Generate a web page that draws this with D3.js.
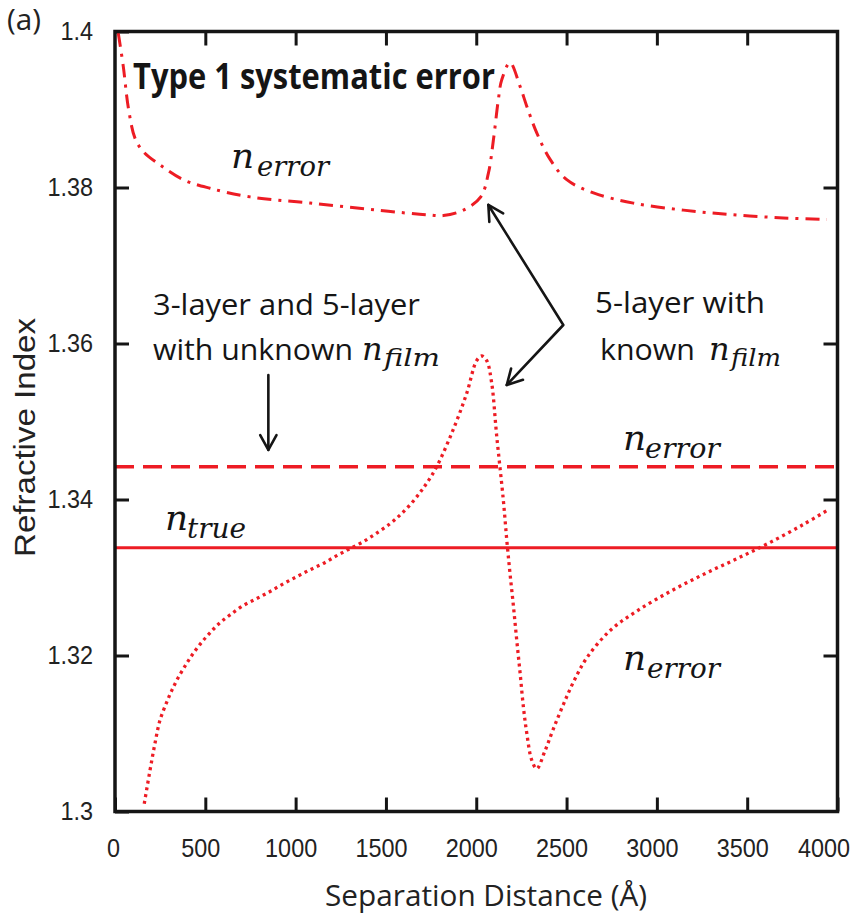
<!DOCTYPE html>
<html>
<head>
<meta charset="utf-8">
<script src="https://cdn.jsdelivr.net/npm/d3@7"></script>
<style>
  html, body { margin: 0; padding: 0; background: #fff; }
  svg { display: block; }
</style>
</head>
<body>
<svg id="chart" width="858" height="915"></svg>
<script>
// Separation distance (Å) and refractive index for each model
const xTicks = [0, 500, 1000, 1500, 2000, 2500, 3000, 3500, 4000];
const yTicks = [1.3, 1.32, 1.34, 1.36, 1.38, 1.4];
const yTickLabels = ["1.3", "1.32", "1.34", "1.36", "1.38", "1.4"];

const nTrue = 1.3338;             // true refractive index
const nErrorUnknownFilm = 1.3442; // 3-layer / 5-layer with unknown n_film

// 5-layer with known n_film, systematic error above the true value (dash-dot)
const upperDist = [18, 46, 74, 111, 157, 249, 378, 526, 748, 1080, 1449, 1726, 1818, 1929, 2025,
  2067, 2095, 2122, 2141, 2187, 2242, 2280, 2335, 2409, 2501, 2649, 2870, 3147, 3424, 3700, 3941];
const upperIndex = [1.3998, 1.3955, 1.3902, 1.3863, 1.3846, 1.3829, 1.3810, 1.3799, 1.3788, 1.3780,
  1.3771, 1.3765, 1.3764, 1.3771, 1.3788, 1.3818, 1.3861, 1.3912, 1.3938, 1.3960, 1.3930, 1.3904,
  1.3870, 1.3836, 1.3810, 1.3793, 1.3780, 1.3771, 1.3765, 1.3761, 1.3759];

// 5-layer with known n_film, oscillating error around the true value (dotted)
const lowerDist = [162, 194, 221, 249, 286, 314, 351, 397, 434, 480, 526, 581, 637, 710, 785, 858,
  932, 1006, 1080, 1153, 1228, 1301, 1375, 1449, 1523, 1578, 1633, 1689, 1726, 1781, 1873, 1947,
  2002, 2030, 2058, 2085, 2113, 2150, 2169, 2187, 2206, 2224, 2243, 2261, 2280, 2307, 2335, 2381,
  2427, 2482, 2538, 2612, 2741, 2889, 3073, 3258, 3442, 3627, 3811, 3950];
const lowerIndex = [1.3010, 1.3053, 1.3087, 1.3117, 1.3140, 1.3155, 1.3172, 1.3190, 1.3203, 1.3217,
  1.3229, 1.3242, 1.3252, 1.3264, 1.3273, 1.3282, 1.3292, 1.3301, 1.3310, 1.3318, 1.3328, 1.3337,
  1.3346, 1.3357, 1.3369, 1.3380, 1.3393, 1.3409, 1.3421, 1.3442, 1.3490, 1.3536, 1.3578, 1.3584,
  1.3578, 1.3550, 1.3482, 1.3399, 1.3348, 1.3305, 1.3263, 1.3220, 1.3177, 1.3134, 1.3100, 1.3066,
  1.3055, 1.3078, 1.3106, 1.3137, 1.3166, 1.3197, 1.3232, 1.3257, 1.3282, 1.3304, 1.3324, 1.3345,
  1.3368, 1.3387];

const RED = "#ed1c24";
const INK = "#151515";

const svg = d3.select("#chart");
const margin = { left: 115, top: 31.5, right: 858 - 837.5, bottom: 915 - 811.5 };
const W = 858 - margin.left - margin.right;
const H = 915 - margin.top - margin.bottom;

const x = d3.scaleLinear().domain([0, 4000]).range([0, W]);
const y = d3.scaleLinear().domain([1.3, 1.4]).range([H, 0]);

const g = svg.append("g").attr("transform", `translate(${margin.left},${margin.top})`);

// Axes: ticks point inward on all four sides
const tickLen = 14;
const styleAxis = (sel, dx = () => 0) => {
  sel.select(".domain").remove();
  sel.selectAll(".tick line").attr("stroke", INK).attr("stroke-width", 3);
  sel.selectAll(".tick text")
    .attr("fill", "#222")
    .attr("font-family", "'Liberation Sans', Arial, sans-serif")
    .attr("font-size", 26)
    .attr("dx", dx)
    .each(function () {
      // slightly condensed numerals
      const len = this.getComputedTextLength();
      if (len > 0) {
        this.setAttribute("textLength", len * 0.9);
        this.setAttribute("lengthAdjust", "spacingAndGlyphs");
      }
    });
};

g.append("g").attr("transform", `translate(0,${H})`)
  .call(d3.axisBottom(x).tickValues(xTicks).tickSizeInner(-tickLen).tickSizeOuter(0).tickPadding(27)
    .tickFormat(d3.format("d")))
  .call(styleAxis, d => (d === 0 ? -2 : d === 4000 ? -14 : -5));
g.append("g")
  .call(d3.axisTop(x).tickValues(xTicks.slice(1, -1)).tickSizeInner(-tickLen).tickSizeOuter(0).tickFormat(""))
  .call(styleAxis);
g.append("g")
  .call(d3.axisLeft(y).tickValues(yTicks).tickSizeInner(-tickLen).tickSizeOuter(0).tickPadding(22)
    .tickFormat((d, i) => yTickLabels[i]))
  .call(styleAxis);
g.append("g").attr("transform", `translate(${W},0)`)
  .call(d3.axisRight(y).tickValues(yTicks.slice(1, -1)).tickSizeInner(-tickLen).tickSizeOuter(0).tickFormat(""))
  .call(styleAxis);

// Clip the curves to the plotting frame
svg.append("clipPath").attr("id", "plotClip")
  .append("rect").attr("x", 0).attr("y", 0).attr("width", W).attr("height", H);
const plot = g.append("g").attr("clip-path", "url(#plotClip)");

// Horizontal reference lines
plot.append("line")
  .attr("x1", x(0)).attr("x2", x(4000)).attr("y1", y(nTrue)).attr("y2", y(nTrue))
  .attr("stroke", RED).attr("stroke-width", 3);
plot.append("line")
  .attr("x1", x(0)).attr("x2", x(4000)).attr("y1", y(nErrorUnknownFilm)).attr("y2", y(nErrorUnknownFilm))
  .attr("stroke", RED).attr("stroke-width", 3.5).attr("stroke-dasharray", "19,9");

const line = d3.line().x(d => x(d[0])).y(d => y(d[1])).curve(d3.curveCatmullRom.alpha(0.5));

plot.append("path")
  .datum(upperDist.map((d, i) => [d, upperIndex[i]]))
  .attr("d", line).attr("fill", "none").attr("stroke", RED).attr("stroke-width", 3)
  .attr("stroke-dasharray", "14,7,3,7");

plot.append("path")
  .datum(lowerDist.map((d, i) => [d, lowerIndex[i]]))
  .attr("d", line).attr("fill", "none").attr("stroke", RED).attr("stroke-width", 3.3)
  .attr("stroke-dasharray", "3,3.8");

// Frame
g.append("rect").attr("x", 0).attr("y", 0).attr("width", W).attr("height", H)
  .attr("fill", "none").attr("stroke", INK).attr("stroke-width", 3.5);

// Axis titles
svg.append("text")
  .attr("x", 486).attr("y", 906).attr("text-anchor", "middle")
  .attr("font-family", "'Open Sans', sans-serif").attr("font-size", 30).attr("fill", "#222")
  .attr("textLength", 322).attr("lengthAdjust", "spacingAndGlyphs")
  .text("Separation Distance (Å)");

svg.append("text")
  .attr("transform", "translate(35,437.5) rotate(-90)").attr("text-anchor", "middle")
  .attr("font-family", "'Liberation Sans', Arial, sans-serif").attr("font-size", 30).attr("fill", "#222")
  .attr("textLength", 239).attr("lengthAdjust", "spacingAndGlyphs")
  .text("Refractive Index");

svg.append("text")
  .attr("x", 7).attr("y", 30)
  .attr("font-family", "'Open Sans', sans-serif").attr("font-size", 29).attr("fill", "#222")
  .attr("textLength", 34).attr("lengthAdjust", "spacingAndGlyphs")
  .text("(a)");

// Annotations
const sans = "'Open Sans', sans-serif";
function plainText(px, py, str, len, opts = {}) {
  svg.append("text")
    .attr("x", px).attr("y", py)
    .attr("font-family", sans).attr("font-size", opts.size || 30)
    .attr("font-weight", opts.weight || "normal").attr("fill", INK)
    .attr("textLength", len).attr("lengthAdjust", "spacingAndGlyphs")
    .text(str);
}
function mathLabel(px, py, sub, subX, subLen, opts = {}) {
  const t = svg.append("g").attr("font-family", "'DejaVu Serif', serif")
    .attr("font-style", "italic").attr("fill", INK);
  t.append("text").attr("x", px).attr("y", py).attr("font-size", opts.size || 36).text("n");
  t.append("text").attr("x", subX).attr("y", py + (opts.subDy || 8))
    .attr("font-size", opts.subSize || 28)
    .attr("textLength", subLen).attr("lengthAdjust", "spacingAndGlyphs").text(sub);
}

plainText(133, 89, "Type 1 systematic error", 362, { size: 35, weight: "bold" });

mathLabel(231, 168, "error", 257, 72);
mathLabel(165, 530, "true", 187, 59);
mathLabel(623, 450, "error", 645, 75);
mathLabel(623, 670, "error", 647, 73);

plainText(153, 315, "3-layer and 5-layer", 267);
plainText(153, 360, "with unknown", 200);
mathLabel(362, 360, "film", 384, 56, { size: 32, subSize: 25, subDy: 6 });

plainText(595, 313, "5-layer with", 170);
plainText(600, 360, "known", 95);
mathLabel(709, 360, "film", 731, 50, { size: 32, subSize: 25, subDy: 6 });

// Arrows, anchored in data coordinates
const arrowPts = {
  downStart: [849, 1.35596], downTip: [849, 1.34635],
  vertex: [2482, 1.36237], upperTip: [2067, 1.37776], lowerTip: [2169, 1.35468]
};
const P = d => [margin.left + x(d[0]), margin.top + y(d[1])];
const arrows = svg.append("g").attr("fill", "none").attr("stroke", INK).attr("stroke-width", 2.6)
  .attr("stroke-linecap", "round").attr("stroke-linejoin", "round");

function arrowHead(from, tip, len = 17, spread = 0.5) {
  const ang = Math.atan2(tip[1] - from[1], tip[0] - from[0]);
  const a1 = [tip[0] - len * Math.cos(ang - spread), tip[1] - len * Math.sin(ang - spread)];
  const a2 = [tip[0] - len * Math.cos(ang + spread), tip[1] - len * Math.sin(ang + spread)];
  arrows.append("path").attr("d", d3.line()([a1, tip, a2]));
}
const ds = P(arrowPts.downStart), dt = P(arrowPts.downTip);
arrows.append("path").attr("d", d3.line()([ds, dt]));
arrowHead(ds, dt);

const v = P(arrowPts.vertex), ut = P(arrowPts.upperTip), lt = P(arrowPts.lowerTip);
arrows.append("path").attr("d", d3.line()([ut, v, lt]));
arrowHead(v, ut);
arrowHead(v, lt);
</script>
</body>
</html>
